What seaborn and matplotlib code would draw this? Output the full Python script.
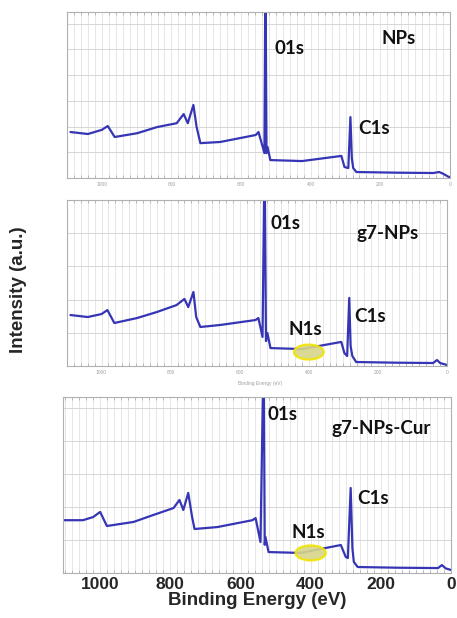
import numpy as np
import pandas as pd
import seaborn as sns
import matplotlib.pyplot as plt
from matplotlib.patches import Ellipse

# --- XPS survey data ---
np_energy = [1090, 1040, 1000, 983, 963, 898, 841, 785, 765, 753, 737, 728, 717, 660,
             558, 550, 533, 530, 527, 524, 516, 425, 312, 303, 292, 286, 282, 278,
             269, 150, 48, 31, 20, 5, 0]
np_int = [27.7, 26.5, 29.0, 31.3, 24.7, 27.0, 30.7, 33.0, 38.5, 33.0, 44.0, 31.0, 21.0, 21.7,
          25.9, 27.7, 15.0, 130.0, 15.0, 18.7, 10.8, 10.2, 13.3, 6.6, 6.0, 36.7, 12.0, 6.0,
          3.6, 3.2, 3.0, 3.6, 2.6, 0.8, 0.5]

g7_energy = [1090, 1040, 1000, 983, 963, 897, 840, 783, 760, 749, 734, 726, 714, 657,
             554, 546, 534, 528, 524, 520, 511, 420, 306, 297, 289, 283, 279, 274,
             263, 150, 40, 29, 20, 3, 0]
g7_int = [30.7, 29.5, 31.3, 33.7, 25.9, 28.9, 32.5, 36.7, 40.4, 35.5, 44.6, 29.5, 23.5, 24.7,
          27.7, 28.9, 17.5, 130.0, 15.0, 19.9, 10.8, 10.2, 14.5, 7.8, 6.0, 41.0, 12.0, 6.0,
          2.4, 2.0, 1.8, 3.6, 1.8, 0.8, 0.6]

cur_energy = [1106, 1049, 1020, 1000, 981, 905, 848, 791, 774, 763, 749, 738, 731, 666,
              566, 557, 543, 534, 531, 529, 520, 429, 314, 300, 294, 286, 281, 277,
              266, 150, 37, 26, 15, 3, 0]
cur_int = [30.0, 30.0, 31.8, 34.7, 26.7, 29.0, 33.0, 36.9, 41.5, 35.8, 45.5, 31.8, 25.0, 26.1,
           30.0, 31.2, 17.6, 130.0, 16.0, 20.5, 11.9, 11.4, 15.9, 9.1, 8.5, 48.3, 14.0, 6.3,
           3.4, 3.0, 2.8, 4.5, 2.6, 1.9, 1.7]

sample_names = ["NPs", "g7-NPs", "g7-NPs-Cur"]
tick_vals = [1000, 800, 600, 400, 200, 0]

sns.set_style("white")
plt.rcParams["font.family"] = ["Liberation Sans", "DejaVu Sans"]

fig = plt.figure(figsize=(4.57, 6.18), dpi=100)
# [left, bottom, width, height], xlim left edge, y grid step
panels = [
    ([67 / 457, 1 - 178 / 618, 383 / 457, 166 / 618], 1085, 15.5, np_energy, np_int),
    ([67 / 457, 1 - 366 / 618, 380 / 457, 166 / 618], 1086, 20.0, g7_energy, g7_int),
    ([63 / 457, 1 - 573 / 618, 388 / 457, 176 / 618], 1106, 18.8, cur_energy, cur_int),
]
line_col = "#3535b5"

axes = []
for rect, xleft, ystep, en, inten in panels:
    ax = fig.add_axes(rect)
    df = pd.DataFrame({"energy": en, "intensity": inten})
    sns.lineplot(data=df, x="energy", y="intensity", sort=False, ax=ax,
                 color=line_col, lw=1.6)
    ax.set_xlim(xleft, 0)
    ax.set_ylim(0, 100)
    ax.set_xticks(np.arange(0, 1101, 20), minor=True)
    ax.set_xticks(tick_vals)
    ax.set_yticks(np.arange(0, 100, ystep))
    ax.set_yticklabels([])
    ax.grid(True, which="both", axis="x", color="#e2e2e2", lw=0.6)
    ax.grid(True, which="major", axis="y", color="#d6d6d6", lw=0.7)
    ax.set_axisbelow(True)
    for s in ax.spines.values():
        s.set_color("#b0b0b0")
        s.set_linewidth(0.8)
    ax.tick_params(axis="x", which="minor", direction="in", length=2, color="#b0b0b0",
                   top=True, bottom=True)
    ax.tick_params(axis="x", which="major", direction="in", length=3, color="#b0b0b0")
    ax.tick_params(axis="y", direction="in", length=3, color="#b0b0b0")
    ax.set_xlabel("")
    ax.set_ylabel("")
    axes.append(ax)

# tiny, blurry tick labels on the two upper panels
for ax in axes[:2]:
    ax.set_xticklabels([str(v) for v in tick_vals], fontsize=3.5, color="#a0a0a0")
    ax.tick_params(axis="x", which="major", pad=3)
axes[2].set_xticklabels([str(v) for v in tick_vals], fontsize=12.5, fontweight="bold")
axes[2].tick_params(axis="x", which="major", pad=3)
axes[2].set_xlabel("Binding Energy (eV)", fontsize=13.5, fontweight="bold", labelpad=0)
fig.text(260 / 457, 1 - 383 / 618, "Binding Energy (eV)", fontsize=3.5, color="#a0a0a0",
         ha="center", va="center")

fig.text(19 / 457, 1 - 290 / 618, "Intensity (a.u.)", rotation=90, fontsize=13.5,
         fontweight="bold", ha="center", va="center")

lab = dict(fontsize=13.5, fontweight="bold", family=["Lato", "DejaVu Sans"],
           ha="left", va="center", color="#111111")
axes[0].text(505, 78, "01s", **lab)
axes[0].text(196, 84, sample_names[0], **lab)
axes[0].text(263, 30, "C1s", **lab)

axes[1].text(512, 86, "01s", **lab)
axes[1].text(262, 80, sample_names[1], **lab)
axes[1].text(268, 30, "C1s", **lab)
axes[1].text(458, 21.7, "N1s", **lab)

axes[2].text(523, 90, "01s", **lab)
axes[2].text(340, 82, sample_names[2], **lab)
axes[2].text(268, 42.6, "C1s", **lab)
axes[2].text(454, 23, "N1s", **lab)

# yellow ellipses marking N1s
for ax, cy, h in [(axes[1], 8.4, 9.0), (axes[2], 11.4, 8.5)]:
    ax.add_patch(Ellipse((400, cy), 86, h, facecolor="#d8d68a", edgecolor="#f2e400",
                         lw=1.6, alpha=0.9, zorder=3))

fig.savefig("out.png", dpi=100)
